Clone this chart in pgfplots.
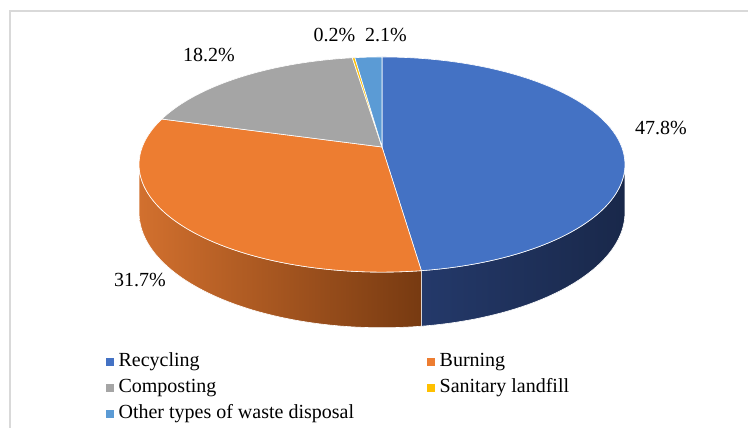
\documentclass[border=0pt]{standalone}
\usepackage{fontspec}
\setmainfont{Liberation Serif}
\usepackage{pgfplots}
\usepackage{pgfplotstable}
\pgfplotsset{compat=1.18}

\definecolor{pie0}{HTML}{4472C4}
\definecolor{pie1}{HTML}{ED7D31}
\definecolor{pie2}{HTML}{A5A5A5}
\definecolor{pie3}{HTML}{FFC000}
\definecolor{pie4}{HTML}{5B9BD5}
\definecolor{sideL0}{HTML}{24396A}
\definecolor{sideR0}{HTML}{19284A}
\definecolor{sideL1}{HTML}{D2702E}
\definecolor{sideR1}{HTML}{773A11}
\definecolor{sideL2}{HTML}{7A7A7A}
\definecolor{sideR2}{HTML}{555555}
\definecolor{sideL3}{HTML}{C09000}
\definecolor{sideR3}{HTML}{8A6800}
\definecolor{sideL4}{HTML}{3F78AE}
\definecolor{sideR4}{HTML}{2A5580}
\definecolor{framegray}{HTML}{D9D9D9}

% shares in percent
\pgfplotstableread{
category share
Recycling 47.8
Burning 31.7
Composting 18.2
Sanitary 0.2
Other 2.1
}\piedata

\def\pp{0.163}   % perspective strength
\def\depth{0.445} % wall height (axis units)
\pgfmathsetmacro\edgeang{asin(\pp)}
\pgfmathsetmacro\cum{0}
\foreach \i in {0,...,4}{%
  \pgfplotstablegetelem{\i}{share}\of\piedata
  \pgfmathsetmacro\hi{90-3.6*\cum}%
  \pgfmathsetmacro\newcum{\cum+\pgfplotsretval}%
  \pgfmathsetmacro\lo{90-3.6*\newcum}%
  \pgfmathsetmacro\slo{max(\lo,-180+\edgeang)}%
  \pgfmathsetmacro\shi{min(\hi,-\edgeang)}%
  \expandafter\xdef\csname pLo\i\endcsname{\lo}%
  \expandafter\xdef\csname pHi\i\endcsname{\hi}%
  \expandafter\xdef\csname sLo\i\endcsname{\slo}%
  \expandafter\xdef\csname sHi\i\endcsname{\shi}%
  \global\let\cum\newcum
}

\begin{document}
\begin{tikzpicture}
\useasboundingbox (0pt,0pt) rectangle (748pt,428pt);
\fill[white] (0pt,0pt) rectangle (748pt,428pt);
\draw[framegray, line width=1.7pt] (9.8pt,-20pt) -- (9.8pt,417.2pt) -- (780pt,417.2pt);
\begin{axis}[
  x=239.7pt, y=104.7pt,
  xmin=-1.2, xmax=1.2, ymin=-1.8, ymax=1.4,
  at={(94.36pt,92.54pt)}, anchor=south west,
  hide axis, clip=false,
  legend columns=2,
  legend style={draw=none, fill=none, inner sep=0pt, outer sep=0pt,
    at={(0.0202,-0.0475)}, anchor=north west,
    font=\fontsize{20}{22}\selectfont,
    nodes={inner xsep=5pt, inner ysep=1pt, text height=14pt, text depth=5pt, anchor=west},
    row sep=5pt,
    /tikz/every even column/.append style={column sep=68pt}},
  legend entries={Recycling,Burning,Composting,Sanitary landfill,Other types of waste disposal},
]
% visible side walls (front of the pie)
\pgfplotsinvokeforeach{0,...,4}{%
  \ifdim\csname sHi#1\endcsname pt>\csname sLo#1\endcsname pt
  \addplot[forget plot, draw=white, line width=0.6pt,
    left color=sideL#1, right color=sideR#1,
    samples at={0,...,121}, variable=\t]
    ({cos(\csname sLo#1\endcsname+(\csname sHi#1\endcsname-\csname sLo#1\endcsname)*((\t<60.5)*\t/60+(\t>60.5)*(121-\t)/60))
      /(1+\pp*sin(\csname sLo#1\endcsname+(\csname sHi#1\endcsname-\csname sLo#1\endcsname)*((\t<60.5)*\t/60+(\t>60.5)*(121-\t)/60)))},
     {(sin(\csname sLo#1\endcsname+(\csname sHi#1\endcsname-\csname sLo#1\endcsname)*((\t<60.5)*\t/60+(\t>60.5)*(121-\t)/60))-\depth*(\t>60.5))
      /(1+\pp*sin(\csname sLo#1\endcsname+(\csname sHi#1\endcsname-\csname sLo#1\endcsname)*((\t<60.5)*\t/60+(\t>60.5)*(121-\t)/60)))})
    -- cycle;
  \fi
}
% top faces
\pgfplotsinvokeforeach{0,...,4}{%
  \addplot[fill=pie#1, draw=white, line width=0.6pt,
    domain=\csname pLo#1\endcsname:\csname pHi#1\endcsname, samples=90, variable=\t,
    legend image code/.code={\fill[pie#1] (0pt,-3.5pt) rectangle (7pt,3.5pt);}]
    ({cos(\t)/(1+\pp*sin(\t))},{sin(\t)/(1+\pp*sin(\t))}) -- (axis cs:0,0) -- cycle;
}
\node[font=\fontsize{20}{22}\selectfont] at (axis cs:1.164,0.181) {47.8\%};
\node[font=\fontsize{20}{22}\selectfont] at (axis cs:-1.010,-1.270) {31.7\%};
\node[font=\fontsize{20}{22}\selectfont] at (axis cs:-0.722,0.879) {18.2\%};
\node[font=\fontsize{20}{22}\selectfont] at (axis cs:-0.198,1.070) {0.2\%};
\node[font=\fontsize{20}{22}\selectfont] at (axis cs:0.0167,1.070) {2.1\%};
\end{axis}
\end{tikzpicture}
\end{document}
